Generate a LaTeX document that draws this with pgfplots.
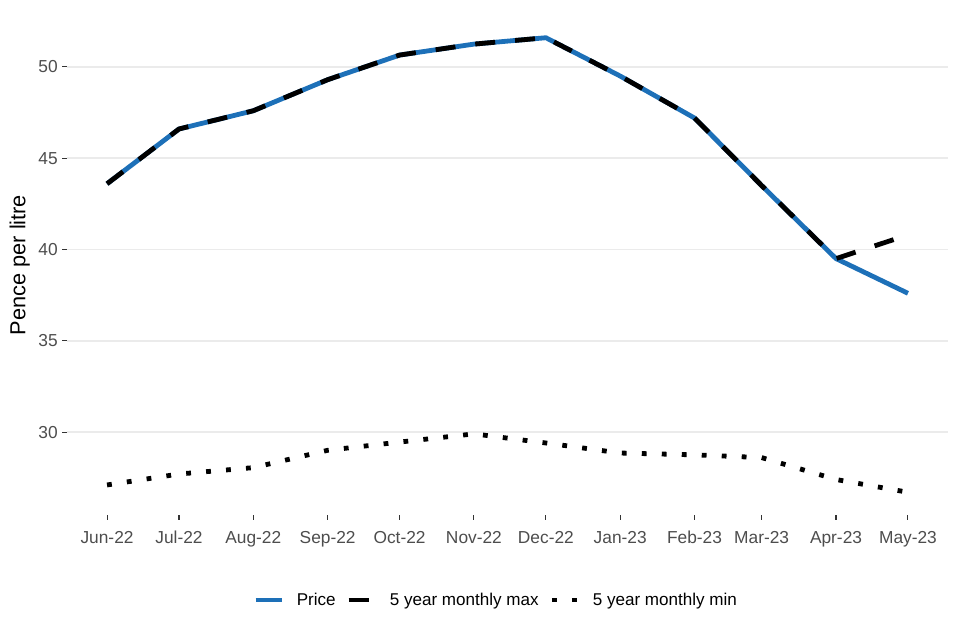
\documentclass[border=0pt]{standalone}
\usepackage{fontspec}
\setmainfont{Liberation Sans}
\usepackage{pgfplots}
\pgfplotsset{compat=1.18}
\definecolor{govblue}{HTML}{1D70B8}
\definecolor{tickgray}{HTML}{333333}
\definecolor{labgray}{HTML}{4D4D4D}
\definecolor{gridgray}{HTML}{EBEBEB}
\begin{document}
\begin{tikzpicture}
\path[use as bounding box] (0,0) rectangle (720pt,480pt);
\begin{axis}[
  at={(50.25pt,93.75pt)}, anchor=south west, scale only axis,
  width=660.75pt, height=375pt,
  xmin=-16.7, xmax=350.7, ymin=25.455, ymax=52.845,
  axis line style={draw=none},
  xtick={0,30,61,92,122,153,183,214,245,273,304,334},
  xticklabels={Jun-22,Jul-22,Aug-22,Sep-22,Oct-22,Nov-22,Dec-22,Jan-23,Feb-23,Mar-23,Apr-23,May-23},
  ytick={30,35,40,45,50},
  ymajorgrids, grid style={draw=gridgray, line width=1.3pt},
  tick style={draw=tickgray, line width=0.8pt},
  major tick length=3.4pt, tick align=outside, tick pos=left,
  ticklabel style={font=\fontsize{13}{15}\selectfont, text=labgray},
  xticklabel style={yshift=-5pt},
  /pgf/number format/assume math mode=true,
  ylabel={Pence per litre},
  every axis y label/.style={at={(rel axis cs:0,0.5)}, rotate=90, anchor=center, yshift=35.5pt, font=\fontsize{16.3}{19}\selectfont},
  legend columns=3,
  legend style={at={(0.4875,-0.17)}, anchor=center, draw=none, fill=none,
    font=\fontsize{12.8}{15}\selectfont,
    /tikz/every odd column/.append style={column sep=7pt},
    /tikz/every even column/.append style={column sep=6pt}},
  legend image code/.code={\draw[#1] (0pt,0pt) -- (20pt,0pt);},
  line join=round,
]
\addplot[govblue, line width=3.6pt] coordinates {(0,43.6)(30,46.6)(61,47.6)(92,49.3)(122,50.65)(153,51.25)(183,51.6)(214,49.5)(245,47.2)(273,43.5)(304,39.5)(334,37.6)};
\addlegendentry{Price}
\addplot[black, line width=3.6pt, dash pattern=on 15pt off 15pt] coordinates {(0,43.6)(30,46.6)(61,47.6)(92,49.3)(122,50.65)(153,51.25)(183,51.6)(214,49.5)(245,47.2)(273,43.5)(304,39.5)(334,40.8)};
\addlegendentry{5 year monthly max}
\addplot[black, line width=3.6pt, dash pattern=on 3.6pt off 11.4pt] coordinates {(0,27.1)(30,27.7)(61,28.05)(92,29.0)(122,29.45)(153,29.9)(183,29.4)(214,28.85)(245,28.75)(273,28.6)(304,27.4)(334,26.7)};
\addlegendentry{5 year monthly min}
\end{axis}
\end{tikzpicture}
\end{document}
